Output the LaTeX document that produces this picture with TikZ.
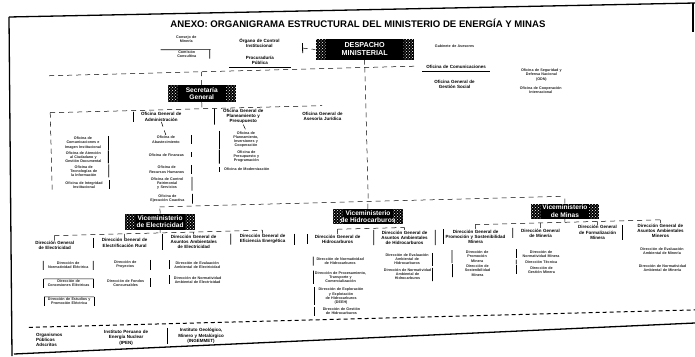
\documentclass[tikz,border=0pt]{standalone}
\usepackage{fontspec}
\setmainfont{Liberation Sans}
\usetikzlibrary{patterns}
\tikzset{
  titulo/.style={font=\bfseries\fontsize{9.6}{11}\selectfont,inner sep=0pt},
  jefe/.style={fill=black,text=white,align=center,inner sep=1pt,
    font=\bfseries\fontsize{6.6}{7.4}\selectfont,
    path picture={
      \fill[pattern=crosshatch dots,pattern color=white]
        (path picture bounding box.north west) rectangle ([xshift=10pt]path picture bounding box.south west);
      \fill[pattern=crosshatch dots,pattern color=white]
        (path picture bounding box.north east) rectangle ([xshift=-10pt]path picture bounding box.south east);}},
  organo/.style={font=\bfseries\fontsize{4.5}{5.1}\selectfont,align=center,text width=#1,inner sep=0.6pt},
  organo/.default=58pt,
  oficina/.style={font=\bfseries\fontsize{3.7}{4.2}\selectfont,align=center,text width=#1,inner sep=0.8pt,text=black!85},
  oficina/.default=48pt,
  lbar/.style={append after command={\pgfextra{\let\mainnode=\tikzlastnode}
      (\mainnode.north west) edge[line width=0.8pt] (\mainnode.south west)}},
  rbar/.style={append after command={\pgfextra{\let\mainnode=\tikzlastnode}
      (\mainnode.north east) edge[line width=0.8pt] (\mainnode.south east)}},
  enlace/.style={line width=0.5pt,dash pattern=on 5pt off 4pt},
  borde/.style={line width=1.3pt},
}
\begin{document}
\begin{tikzpicture}[x=1pt,y=-1pt]
  \useasboundingbox (0,0) rectangle (695,356);
  % borde de la hoja
  \draw[borde] (9,17) -- (695,3);
  \draw[borde] (9,17) -- (12,356);
  \draw[borde] (14,354) -- (695,323);
  \draw[borde] (693,3) -- (693,32);

  \begin{scope}[rotate around={1.5:(347,178)}]
  \node[titulo] (titulo) at (362,24) {ANEXO: ORGANIGRAMA ESTRUCTURAL DEL MINISTERIO DE ENERGÍA Y MINAS};

  % alta direccion
  \node[jefe,minimum width=98pt,minimum height=20pt,font=\bfseries\fontsize{7.2}{8}\selectfont] (despacho) at (368,50) {DESPACHO\\MINISTERIAL};
  \node[oficina=44pt] (consejo) at (190,35) {Consejo de\\Minería};
  \node[oficina=44pt,rbar] (comision) at (190,50) {Comisión\\Consultiva};
  \draw[line width=0.6pt] ([xshift=-3pt]comision.north west) -- ([xshift=1pt]comision.north east);
  \node[organo=60pt] (oci) at (263,41) {Órgano de Control\\Institucional};
  \node[organo=60pt] (procuraduria) at (263,58) {Procuraduría\\Pública};
  \draw[line width=0.6pt] ([yshift=-2pt]procuraduria.south west) -- ([yshift=-2pt]procuraduria.south east);
  \coordinate (llave) at (306,47);
  \draw[line width=0.8pt] ([yshift=-5pt]llave) -- ([yshift=5pt]llave);
  \draw[enlace] (llave) -- (despacho.west);
  \node[oficina=60pt] (gabinete) at (458,49) {Gabinete de Asesores};
  \node[organo=66pt] (comunicaciones) at (459,70) {Oficina de Comunicaciones};
  \draw[line width=0.6pt] ([yshift=-1.5pt]comunicaciones.south west) -- ([yshift=-1.5pt]comunicaciones.south east);
  \node[organo=52pt] (gestionsocial) at (457,87) {Oficina General de\\Gestión Social};
  \node[oficina=54pt] (defensa) at (544,80) {Oficina de Seguridad y\\Defensa Nacional\\(ODN)};
  \node[oficina=54pt] (cooperacion) at (543,95) {Oficina de Cooperación\\Internacional};

  \coordinate (b1w) at (52,68);
  \coordinate (b1e) at (420,68);
  \draw[enlace] (b1w) -- (b1e);
  \draw[enlace] (despacho.south) -- (despacho.south |- b1e);

  % secretaria general
  \node[jefe,minimum width=68pt,minimum height=17pt] (secretaria) at (204,90) {Secretaría\\General};
  \draw[enlace] (secretaria.north) -- (secretaria.north |- b1w);
  \coordinate (b2w) at (52,105);
  \coordinate (b2e) at (324,105);
  \draw[enlace] (b2w) -- (b2e);
  \draw[enlace] (secretaria.south) -- (secretaria.south |- b2w);
  \node[organo=54pt,lbar] (administracion) at (163,112) {Oficina General de\\Administración};
  \node[organo=56pt,lbar] (planeamiento) at (245,114) {Oficina General de\\Planeamiento y\\Presupuesto};
  \node[organo=56pt] (juridica) at (324,116) {Oficina General de\\Asesoría Jurídica};

  \foreach \y/\t [count=\i] in {136/{Oficina de\\Comunicaciones e\\Imagen Institucional},
      150/{Oficina de Atención\\al Ciudadano y\\Gestión Documental},
      164/{Oficina de\\Tecnologías de\\la Información},
      178/{Oficina de Integridad\\Institucional}}
    \node[oficina,rbar] (izq\i) at (84,\y) {\t};
  \draw[enlace] (b2w) -- (b2w |- izq4.south);

  \foreach \y/\t [count=\i] in {135/{Oficina de\\Abastecimiento},
      150/{Oficina de Finanzas},
      165/{Oficina de\\Recursos Humanos},
      179/{Oficina de Control\\Patrimonial\\y Servicios},
      194/{Oficina de\\Ejecución Coactiva}}
    \node[oficina,rbar] (adm\i) at (167,\y) {\t};
  \draw[enlace] (administracion.south) -- (adm1.north);

  \foreach \y/\t [count=\i] in {137/{Oficina de\\Planeamiento,\\Inversiones y\\Cooperación},
      154/{Oficina de\\Presupuesto y\\Programación},
      167/{Oficina de Modernización}}
    \node[oficina=52pt,lbar] (plan\i) at (247,\y) {\t};
  \draw[enlace] (planeamiento.south) -- (plan1.north);

  % viceministerios
  \coordinate (b3w) at (159,202);
  \coordinate (b3e) at (564,202);
  \draw[enlace] (b3w) -- (b3e);
  \draw[enlace] (despacho.south |- b1e) -- (despacho.south |- b3e);
  \node[jefe,minimum width=70pt,minimum height=16pt] (vmelec) at (159,217) {Viceministerio\\de Electricidad};
  \node[jefe,minimum width=70pt,minimum height=15pt] (vmhidro) at (367,217) {Viceministerio\\de Hidrocarburos};
  \node[jefe,minimum width=68pt,minimum height=15pt] (vmminas) at (564,217) {Viceministerio\\de Minas};
  \foreach \v in {vmelec,vmhidro,vmminas}
    \draw[enlace] (\v.north) -- (\v.north |- b3w);

  % electricidad
  \node[organo=46pt] (dgelec) at (53,238) {Dirección General\\de Electricidad};
  \node[organo=60pt,lbar] (dger) at (123,237) {Dirección General de\\Electrificación Rural};
  \node[organo=60pt,lbar] (dgaae) at (192,238) {Dirección General de\\Asuntos Ambientales\\de Electricidad};
  \node[organo=62pt,lbar,rbar] (dgee) at (261,237) {Dirección General de\\Eficiencia Energética};
  \coordinate (bew) at (53,228);
  \coordinate (bee) at (261,228);
  \draw[enlace] (bew) -- (bee);
  \draw[enlace] (vmelec.south) -- (vmelec.south |- bew);
  \foreach \d in {dgelec,dger,dgaae,dgee}
    \draw[enlace] (\d.north |- bew) -- (\d.north);

  \foreach \y/\t [count=\i] in {258/{Dirección de\\Normatividad Eléctrica},
      276/{Dirección de\\Concesiones Eléctricas},
      294/{Dirección de Estudios y\\Promoción Eléctrica}}
    \node[oficina,lbar,rbar] (elec\i) at (66,\y) {\t};
  \draw[line width=0.6pt] (elec2.north west) -- (elec2.north east);
  \draw[line width=0.6pt] (elec3.north west) -- (elec3.north east);
  \foreach \y/\t [count=\i] in {259/{Dirección de\\Proyectos},
      277/{Dirección de Fondos\\Concursables}}
    \node[oficina,rbar] (er\i) at (123,\y) {\t};
  \foreach \y/\t [count=\i] in {261/{Dirección de Evaluación\\Ambiental de Electricidad},
      276/{Dirección de Normatividad\\Ambiental de Electricidad}}
    \node[oficina=54pt,lbar] (aae\i) at (195,\y) {\t};

  % hidrocarburos
  \node[organo=58pt,lbar] (dgh) at (336,239) {Dirección General de\\Hidrocarburos};
  \node[organo=60pt,lbar,rbar] (dgaah) at (403,239) {Dirección General de\\Asuntos Ambientales\\de Hidrocarburos};
  \coordinate (bhw) at (336,229);
  \coordinate (bhe) at (403,229);
  \draw[enlace] (bhw) -- (bhe);
  \foreach \d in {dgh,dgaah}
    \draw[enlace] (\d.north |- bhw) -- (\d.north);

  \foreach \y/\t [count=\i] in {261/{Dirección de Normatividad\\de Hidrocarburos},
      277/{Dirección de Procesamiento,\\Transporte y\\Comercialización},
      296/{Dirección de Exploración\\y Explotación\\de Hidrocarburos\\(DEEH)},
      311/{Dirección de Gestión\\de Hidrocarburos}}
    \node[oficina=52pt,lbar] (hid\i) at (338,\y) {\t};
  \foreach \y/\t [count=\i] in {261/{Dirección de Evaluación\\Ambiental de\\Hidrocarburos},
      276/{Dirección de Normatividad\\Ambiental de\\Hidrocarburos}}
    \node[oficina,rbar] (aah\i) at (405,\y) {\t};

  % minas
  \node[organo=62pt,lbar] (dgpsm) at (474,240) {Dirección General de\\Promoción y Sostenibilidad\\Minera};
  \node[organo=54pt,lbar] (dgm) at (539,238) {Dirección General\\de Minería};
  \node[organo=48pt,rbar] (dgfm) at (596,239) {Dirección General\\de Formalización\\Minera};
  \node[organo=58pt] (dgaam) at (659,239) {Dirección General de\\Asuntos Ambientales\\Mineros};
  \coordinate (bmw) at (474,228);
  \coordinate (bme) at (659,228);
  \draw[enlace] (bmw) -- (bme);
  \draw[enlace] (vmminas.south) -- (vmminas.south |- bmw);
  \foreach \d in {dgpsm,dgm,dgfm,dgaam}
    \draw[enlace] (\d.north |- bmw) -- (\d.north);

  \foreach \y/\t [count=\i] in {260/{Dirección de\\Promoción\\Minera},
      274/{Dirección de\\Sostenibilidad\\Minera}}
    \node[oficina,lbar] (psm\i) at (475,\y) {\t};
  \foreach \y/\t [count=\i] in {259/{Dirección de\\Normatividad Minera},
      267/{Dirección Técnica},
      275/{Dirección de\\Gestión Minera}}
    \node[oficina,lbar] (min\i) at (539,\y) {\t};
  \foreach \y/\t [count=\i] in {259/{Dirección de Evaluación\\Ambiental de Minería},
      276/{Dirección de Normatividad\\Ambiental de Minería}}
    \node[oficina=54pt] (aam\i) at (660,\y) {\t};

  % organismos adscritos
  \coordinate (adsw) at (25,319);
  \coordinate (adse) at (710,319);
  \draw[line width=1pt,dash pattern=on 4pt off 3pt] (adsw) -- (adse);
  \node[organo=42pt,align=left] (adscritos) at (53,332) {Organismos\\Públicos\\Adscritos};
  \node[organo=56pt] (ipen) at (122,332) {Instituto Peruano de\\Energía Nuclear\\(IPEN)};
  \node[organo=66pt,lbar] (ingemmet) at (197,332) {Instituto Geológico,\\Minero y Metalúrgico\\(INGEMMET)};
  \end{scope}
\end{tikzpicture}
\end{document}
